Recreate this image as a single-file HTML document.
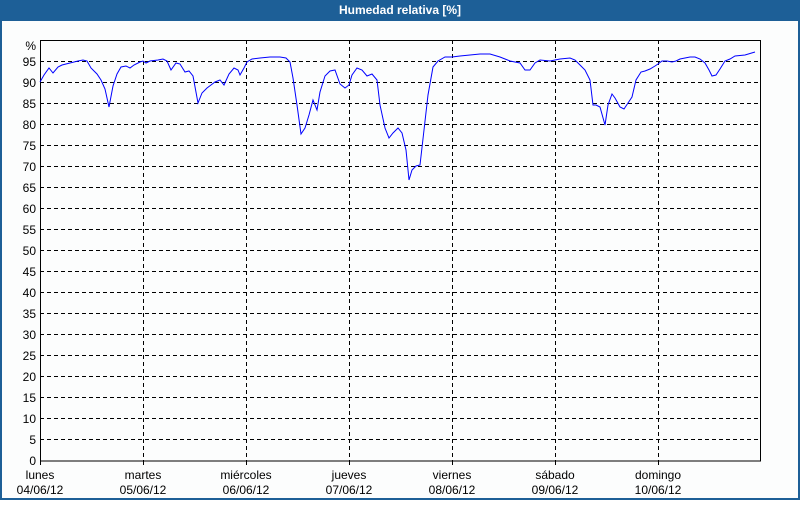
<!DOCTYPE html>
<html><head><style>
body{margin:0;width:800px;height:500px;overflow:hidden;background:#fff;font-family:"Liberation Sans",sans-serif;}
</style></head><body>
<svg width="800" height="500" xmlns="http://www.w3.org/2000/svg" font-family="Liberation Sans, sans-serif">
<rect x="0" y="0" width="800" height="500" fill="#1d5f97"/>
<rect x="2" y="21" width="796" height="477" fill="#fcfdfd"/>
<text x="400" y="14" fill="#fff" font-size="12" font-weight="bold" text-anchor="middle">Humedad relativa [%]</text>
<g stroke="#000" stroke-dasharray="4,3" stroke-width="1">
<path d="M40 61.5H760M40 82.5H760M40 103.5H760M40 124.5H760M40 145.5H760M40 166.5H760M40 187.5H760M40 208.5H760M40 229.5H760M40 250.5H760M40 271.5H760M40 292.5H760M40 313.5H760M40 334.5H760M40 355.5H760M40 376.5H760M40 397.5H760M40 418.5H760M40 439.5H760"/>
<path d="M143.5 40V461M246.5 40V461M349.5 40V461M452.5 40V461M555.5 40V461M658.5 40V461"/>
</g>
<rect x="40.5" y="40.5" width="720" height="420.5" fill="none" stroke="#000" stroke-width="1"/>
<g stroke="#000"><path d="M40.5 461V465M143.5 461V465M246.5 461V465M349.5 461V465M452.5 461V465M555.5 461V465M658.5 461V465"/></g>
<g font-size="12" fill="#000" text-anchor="end">
<text x="36" y="50">%</text>
<text x="36" y="66">95</text><text x="36" y="87">90</text><text x="36" y="108">85</text><text x="36" y="129">80</text><text x="36" y="150">75</text><text x="36" y="171">70</text><text x="36" y="192">65</text><text x="36" y="213">60</text><text x="36" y="234">55</text><text x="36" y="255">50</text><text x="36" y="276">45</text><text x="36" y="297">40</text><text x="36" y="318">35</text><text x="36" y="339">30</text><text x="36" y="360">25</text><text x="36" y="381">20</text><text x="36" y="402">15</text><text x="36" y="423">10</text><text x="36" y="444">5</text><text x="36" y="465">0</text>
</g>
<g font-size="12" fill="#000" text-anchor="middle">
<text x="40" y="479">lunes</text><text x="40" y="494">04/06/12</text>
<text x="143" y="479">martes</text><text x="143" y="494">05/06/12</text>
<text x="246" y="479">miércoles</text><text x="246" y="494">06/06/12</text>
<text x="349" y="479">jueves</text><text x="349" y="494">07/06/12</text>
<text x="452" y="479">viernes</text><text x="452" y="494">08/06/12</text>
<text x="555" y="479">sábado</text><text x="555" y="494">09/06/12</text>
<text x="658" y="479">domingo</text><text x="658" y="494">10/06/12</text>
</g>
<polyline fill="none" stroke="#0000ff" stroke-width="1" points="40,82 44,75 49,68 53,73 58,67 62,65 70,63 78,61 83,60 87,61 91,68 97,74 101,80 105,89 109,107 113,86 117,74 121,67 126,66 130,68 134,65 140,62 143,61 146,63 150,61 158,60 163,59 167,61 171,70 176,63 180,64 185,72 189,71 193,76 198,103 202,93 207,88 211,85 215,82 220,80 224,85 229,74 234,68 238,70 240,75 244,68 247,62 252,59 260,58 270,57 280,57 286,58 290,62 293,78 297,105 301,134 305,128 309,115 313,100 317,110 320,92 325,76 330,71 335,70 340,84 345,88 349,85 352,75 357,68 362,70 367,76 372,74 377,80 380,105 385,128 389,138 393,133 398,128 402,133 406,150 409,180 412,170 416,166 420,165 424,130 428,95 433,67 438,61 445,57 452,57 460,56 470,55 480,54 490,54 500,57 510,61 520,63 525,70 530,70 535,63 540,60 550,61 560,59 570,58 575,60 580,65 585,70 590,80 593,105 596,105 600,107 605,125 608,105 612,94 615,98 620,107 624,109 628,103 632,97 636,80 641,72 645,71 650,69 655,66 658,64 662,61 667,61 672,62 676,61 680,59 685,58 690,57 695,57 700,59 705,63 709,70 712,76 716,75 720,69 725,61 730,59 735,56 745,55 755,52"/>
</svg>
</body></html>
